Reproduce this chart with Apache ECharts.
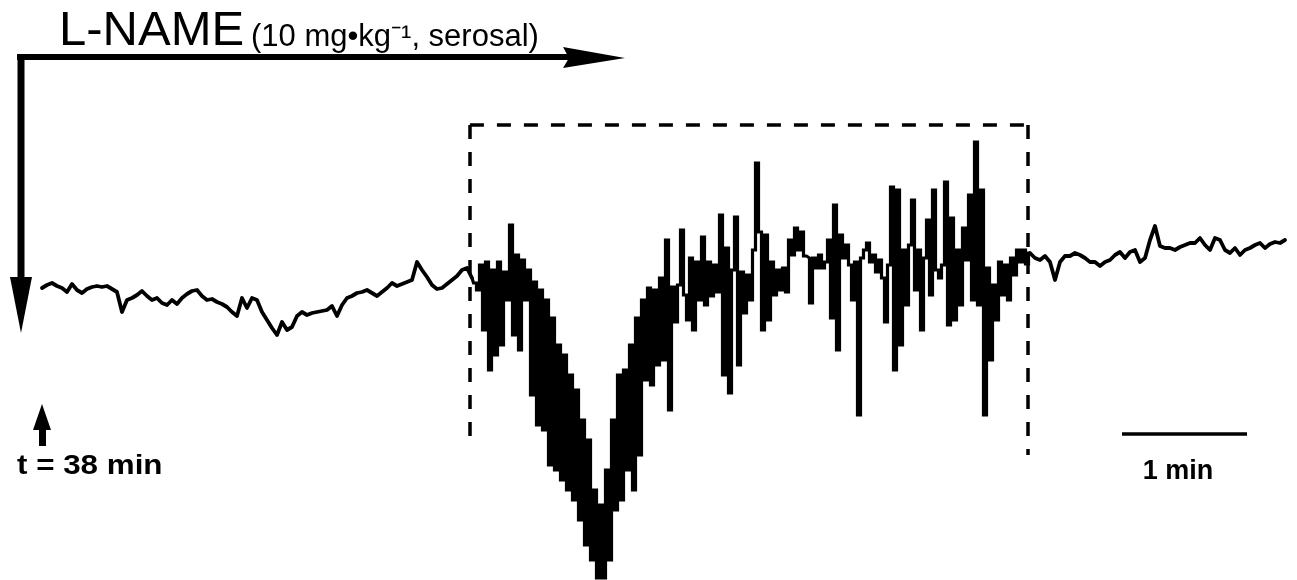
<!DOCTYPE html>
<html>
<head>
<meta charset="utf-8">
<script src="https://cdn.jsdelivr.net/npm/echarts@6/dist/echarts.min.js"></script>
<style>
html,body{margin:0;padding:0;background:#fff;}
#chart{width:1297px;height:580px;}
</style>
</head>
<body>
<div id="chart"></div>
<script>
// Trace recorded as three sampled segments (time in s, signal in a.u.)
const preStart = 0, preDt = 2.4;
const preValues = [0.2,0.5,0.7,0.4,0.2,-0.2,0.6,0.0,-0.3,0.1,0.3,0.4,0.3,0.4,0.1,-0.2,-2.2,-1.0,-0.8,-0.5,
  -0.1,-0.6,-1.0,-0.8,-1.3,-1.5,-1.0,-1.4,-0.8,-0.4,-0.1,0.0,-0.6,-1.0,-0.9,-1.2,-1.4,-1.7,-2.2,-2.6,
  -0.8,-1.8,-0.8,-1.0,-2.2,-3.0,-3.8,-4.5,-3.2,-4.0,-3.7,-2.6,-2.2,-2.5,-2.3,-2.2,-2.1,-2.0,-1.6,-2.6,
  -1.5,-0.8,-0.6,-0.3,-0.2,0.0,-0.3,-0.6,-0.2,0.2,0.7,0.4,0.6,0.8,1.0,2.8,2.0,1.3,0.5,0.1,
  0.2,0.6,1.0,1.4,2.0,2.2];

const burstStart = 206.4, burstDt = 1.44;
const burstValues = [1.2,0.7,0.0,2.5,-4.0,2.8,-8.0,2.0,-6.5,2.8,-5.5,1.8,-1.0,6.5,-4.5,3.5,-6.0,3.0,-1.0,2.0,
  -10.5,0.8,-13.5,0.0,-14.0,-1.0,-17.5,-2.8,-18.0,-5.5,-19.0,-6.5,-20.0,-8.5,-21.0,-10.0,-23.0,-13.0,-25.5,-15.0,
  -27.0,-20.0,-28.8,-21.5,-28.8,-18.0,-27.0,-13.0,-22.0,-8.5,-21.0,-8.0,-18.0,-5.5,-20.0,-2.8,-16.5,-1.0,-9.0,0.2,
  -9.5,0.0,-7.5,1.2,-7.0,5.0,-12.0,0.3,-3.2,0.5,6.0,-0.5,-3.0,3.2,-4.0,2.8,-1.0,5.3,-1.5,2.8,
  -0.6,2.5,-0.2,7.5,-8.5,4.2,-10.3,2.0,7.3,-7.5,1.8,-2.3,1.5,-1.0,4.0,12.7,5.8,-4.0,5.5,-3.0,
  2.8,-0.5,2.0,0.0,2.2,-0.2,5.0,3.5,6.2,4.0,5.8,3.4,3.2,-1.3,3.2,2.2,3.5,2.2,2.8,5.0,
  -2.8,8.5,-6.0,5.5,3.2,4.5,2.5,-1.0,2.8,-12.5,3.2,4.0,4.7,2.8,3.5,1.8,3.0,1.2,-3.2,2.5,
  10.3,-8.0,10.0,-5.5,4.0,-1.5,4.5,9.0,0.0,4.0,-4.0,3.2,7.0,-0.5,10.0,2.0,1.2,2.5,10.8,-3.5,
  7.2,-3.0,4.0,-1.5,6.2,3.0,9.5,-1.0,14.8,-1.5,10.0,-12.5,2.2,-7.0,0.5,-3.0,2.8,-0.5,2.5,-1.0,
  3.2,1.5,4.0,2.8,4.0,2.6,3.7];

const postStart = 476.64, postDt = 2.4;
const postValues = [3.2,3.0,3.4,2.8,1.0,2.8,3.4,3.4,3.7,3.5,3.2,2.8,2.8,2.4,2.8,3.0,3.5,3.8,3.2,3.8,
  4.0,2.8,3.2,5.0,6.4,4.4,4.2,4.2,4.0,4.3,4.5,4.7,4.7,5.2,4.5,4.0,5.2,5.0,4.0,3.7,
  4.2,3.5,4.0,4.2,4.5,4.7,4.2,4.6,4.8,4.7,5.0];

// Annotation values (data units)
const boxLeft = 205.4, boxRight = 473.3, boxTop = 16.5, boxBottomLeft = -15.3, boxBottomRight = -16.5;
const scaleBarStart = 518.4, scaleBarLength = 60, scaleBarLevel = -14.4;

const texts = {
  drug: 'L-NAME',
  dose: '(10 mg\u2022kg\u207B\u00B9, serosal)',
  start: 't = 38 min',
  scale: '1 min'
};

function build(t0, dt, vals) { return vals.map((v, i) => [t0 + i * dt, v]); }
const preData = build(preStart, preDt, preValues);
const burstData = build(burstStart, burstDt, burstValues);
const postData = build(postStart, postDt, postValues);
// join segments end to end
const preJoined = preData.concat([burstData[0]]);
const postJoined = [burstData[burstData.length - 1]].concat(postData);

const chart = echarts.init(document.getElementById('chart'), null, {renderer: 'canvas'});
const FONT = '"Liberation Sans", Arial, Helvetica, sans-serif';
const traceStyle = {color: '#000', width: 3.8, join: 'round', cap: 'round'};
chart.setOption({
  animation: false,
  backgroundColor: '#fff',
  grid: {left: 0, right: 0, top: 0, bottom: 0},
  xAxis: {type: 'value', min: -20.16, max: 602.4, show: false},
  yAxis: {type: 'value', min: -29, max: 29, show: false},
  series: [{
    type: 'line', data: preJoined, showSymbol: false, symbol: 'none', lineStyle: traceStyle
  }, {
    type: 'line', data: burstData, step: 'middle', showSymbol: false, symbol: 'none',
    lineStyle: {color: '#000', width: 3.2, join: 'miter', cap: 'butt'},
    markLine: {
      silent: true,
      symbol: ['none', 'none'],
      label: {show: false},
      lineStyle: {color: '#000', width: 3.5, type: [14, 13]},
      data: [
        [{coord: [boxLeft, boxTop]}, {coord: [boxRight, boxTop]}],
        [{coord: [boxLeft, boxTop]}, {coord: [boxLeft, boxBottomLeft]}],
        [{coord: [boxRight, boxTop]}, {coord: [boxRight, boxBottomRight]}],
        [{coord: [scaleBarStart, scaleBarLevel], lineStyle: {type: 'solid', width: 3.5, color: '#000'}},
         {coord: [scaleBarStart + scaleBarLength, scaleBarLevel]}]
      ]
    }
  }, {
    type: 'line', data: postJoined, showSymbol: false, symbol: 'none', lineStyle: traceStyle
  }],
  graphic: [
    {type: 'line', shape: {x1: 17, y1: 57, x2: 570, y2: 57}, style: {stroke: '#000', lineWidth: 6}},
    {type: 'polygon', shape: {points: [[563, 47], [625, 58], [563, 68], [569, 58]]}, style: {fill: '#000'}},
    {type: 'line', shape: {x1: 21, y1: 54, x2: 21, y2: 282}, style: {stroke: '#000', lineWidth: 7}},
    {type: 'polygon', shape: {points: [[10, 277], [32, 277], [21, 333]]}, style: {fill: '#000'}},
    {type: 'text', style: {text: texts.drug, x: 59, y: 31, font: '49px ' + FONT, fill: '#000',
      textAlign: 'left', textVerticalAlign: 'middle'}},
    {type: 'text', style: {text: texts.dose, x: 251, y: 37, font: '31px ' + FONT, fill: '#000',
      textAlign: 'left', textVerticalAlign: 'middle'}},
    {type: 'polygon', shape: {points: [[42, 404], [33, 430], [51, 430]]}, style: {fill: '#000'}},
    {type: 'rect', shape: {x: 39, y: 426, width: 7, height: 20}, style: {fill: '#000'}},
    {type: 'text', x: 17, y: 466, scaleX: 1.12, originX: 0, originY: 0,
      style: {text: texts.start, x: 0, y: 0, font: 'bold 28px ' + FONT, fill: '#000',
      textAlign: 'left', textVerticalAlign: 'middle'}},
    {type: 'text', style: {text: texts.scale, x: 1178, y: 472, font: 'bold 27px ' + FONT, fill: '#000',
      textAlign: 'center', textVerticalAlign: 'middle'}}
  ]
});
</script>
</body>
</html>
